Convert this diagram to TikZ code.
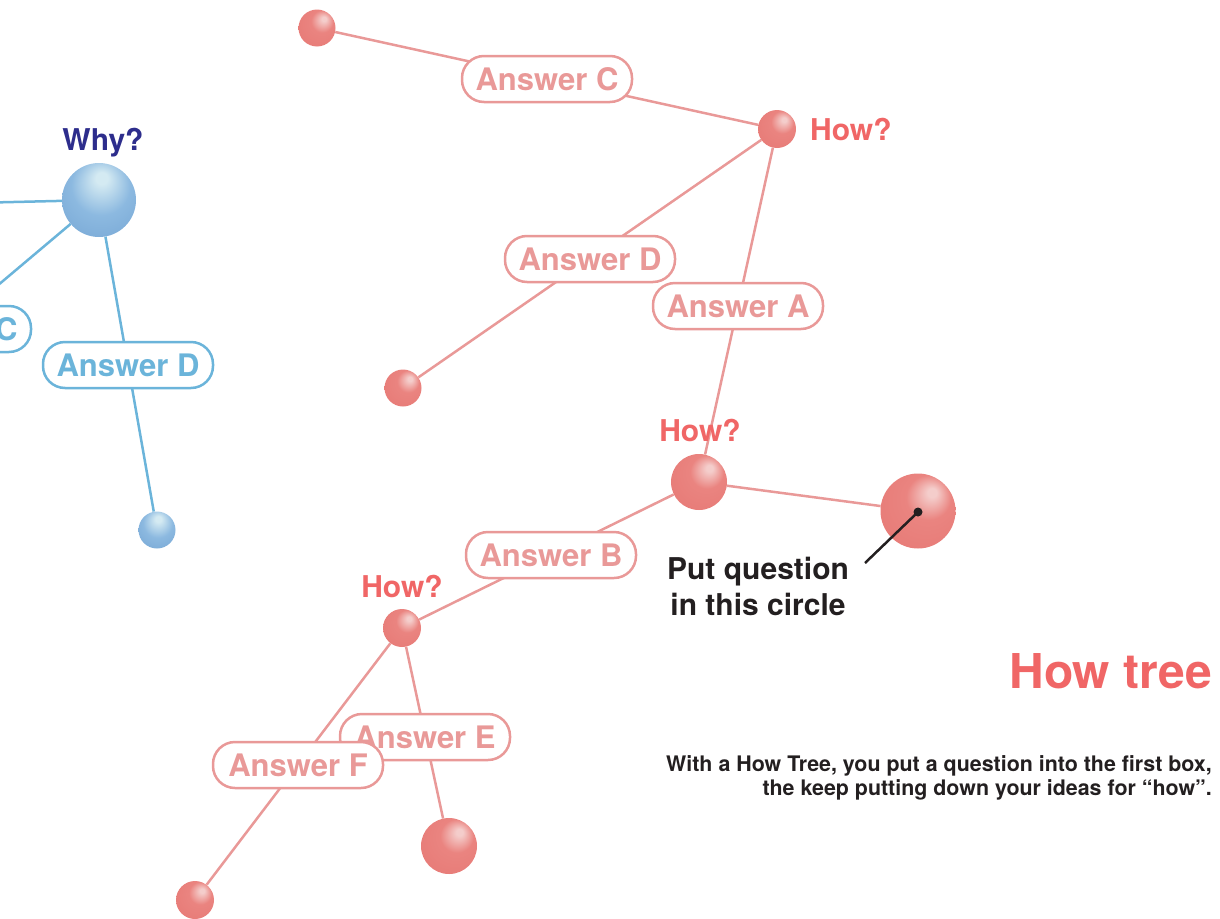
\documentclass[tikz,border=0pt]{standalone}
\usepackage{fontspec}
\setmainfont{TeX Gyre Heros}
\usetikzlibrary{backgrounds}
\definecolor{redline}{RGB}{233,153,152}
\definecolor{howred}{RGB}{240,102,102}
\definecolor{redhl}{RGB}{244,205,203}
\definecolor{redmid}{RGB}{234,132,128}
\definecolor{rededge}{RGB}{229,116,112}
\definecolor{blueline}{RGB}{107,180,218}
\definecolor{bluehl}{RGB}{212,234,242}
\definecolor{bluemid}{RGB}{140,185,224}
\definecolor{blueedge}{RGB}{106,156,206}
\definecolor{navy}{RGB}{45,45,140}
\definecolor{ink}{RGB}{35,31,32}
\pgfdeclareradialshading{redball}{\pgfpoint{10bp}{13bp}}{color(0bp)=(redhl); color(3bp)=(redhl); color(15bp)=(redmid); color(50bp)=(rededge)}
\pgfdeclareradialshading{blueball}{\pgfpoint{2bp}{16bp}}{color(0bp)=(bluehl); color(4bp)=(bluehl); color(20bp)=(bluemid); color(50bp)=(blueedge)}
\tikzset{
  rsph/.style={circle,inner sep=0pt,shading=redball,minimum size=#1},
  bsph/.style={circle,inner sep=0pt,shading=blueball,minimum size=#1},
  rline/.style={draw=redline,line width=2.5pt},
  bline/.style={draw=blueline,line width=2.5pt},
  anstag/.style={draw,fill=white,line width=2.5pt,rounded corners=22pt,minimum width=170pt,minimum height=46pt,inner sep=0pt,font=\fontsize{31}{36}\selectfont\bfseries},
  ranstag/.style={anstag,draw=redline,text=redline},
  banstag/.style={anstag,draw=blueline,text=blueline},
  howlbl/.style={text=howred,inner sep=0pt,font=\fontsize{30}{36}\selectfont\bfseries}
}
\begin{document}
\begin{tikzpicture}[x=1pt,y=-1pt]
\useasboundingbox (0,0) rectangle (1220,918);
\clip (0,0) rectangle (1220,918);
% red spheres
\node[rsph=37pt] (s1) at (317,28) {};
\node[rsph=38pt] (h1) at (777,129) {};
\node[rsph=37pt] (sD) at (403,388) {};
\node[rsph=56pt] (h2) at (699,482) {};
\node[rsph=75pt] (big) at (918,511) {};
\node[rsph=38pt] (h3) at (402,628) {};
\node[rsph=56pt] (sE) at (449,846) {};
\node[rsph=38pt] (sF) at (195,900) {};
% blue spheres
\node[bsph=74pt] (why) at (99,200) {};
\node[bsph=37pt] (bs) at (157,530) {};
\coordinate (bleft) at (-200,207);
% answer boxes
\node[ranstag] (ansC) at (547,79) {Answer C};
\node[ranstag] (ansD) at (590,259) {Answer D};
\node[ranstag] (ansA) at (738,306) {Answer A};
\node[ranstag] (ansB) at (551,555) {Answer B};
\node[ranstag] (ansE) at (425,737) {Answer E};
\node[ranstag] (ansF) at (298,765) {Answer F};
\node[banstag] (bansD) at (128,365) {Answer D};
\node[banstag] (bansC) at (-54,329) {Answer C};
% connectors
\begin{scope}[on background layer]
\path[rline] (s1) -- (h1);
\path[rline] (h1) -- (sD);
\path[rline] (h1) -- (h2);
\path[rline] (h2) -- (big);
\path[rline] (h2) -- (h3);
\path[rline] (h3) -- (sE);
\path[rline] (h3) -- (sF);
\path[bline] (why) -- (bleft);
\path[bline] (why) -- (bs);
\path[bline] (why) -- (bansC);
\end{scope}
% labels
\node[howlbl,anchor=base west] (lh1) at (810,140) {How?};
\node[howlbl,anchor=base] (lh2) at (700,441) {How?};
\node[howlbl,anchor=base] (lh3) at (402,597) {How?};
\node[text=navy,inner sep=0pt,anchor=base,font=\fontsize{30}{36}\selectfont\bfseries] (lwhy) at (103,150) {Why?};
% annotation
\fill[ink] (918,512) circle (4.5pt) coordinate (dot);
\coordinate (ptr) at (865,563);
\draw[ink,line width=2.5pt] (dot) -- (ptr);
\node[text=ink,inner sep=0pt,anchor=north,align=center,font=\fontsize{30}{36}\selectfont\bfseries] (put) at (758,557) {Put question\\in this circle};
\node[text=howred,inner sep=0pt,anchor=base east,font=\fontsize{48}{56}\selectfont\bfseries] (title) at (1212,688) {How tree};
\node[text=ink,inner sep=0pt,anchor=north east,align=right,font=\fontsize{21.4}{24}\selectfont\bfseries] (desc) at (1212,755) {With a How Tree, you put a question into the first box,\\the keep putting down your ideas for “how”.};
\end{tikzpicture}
\end{document}
